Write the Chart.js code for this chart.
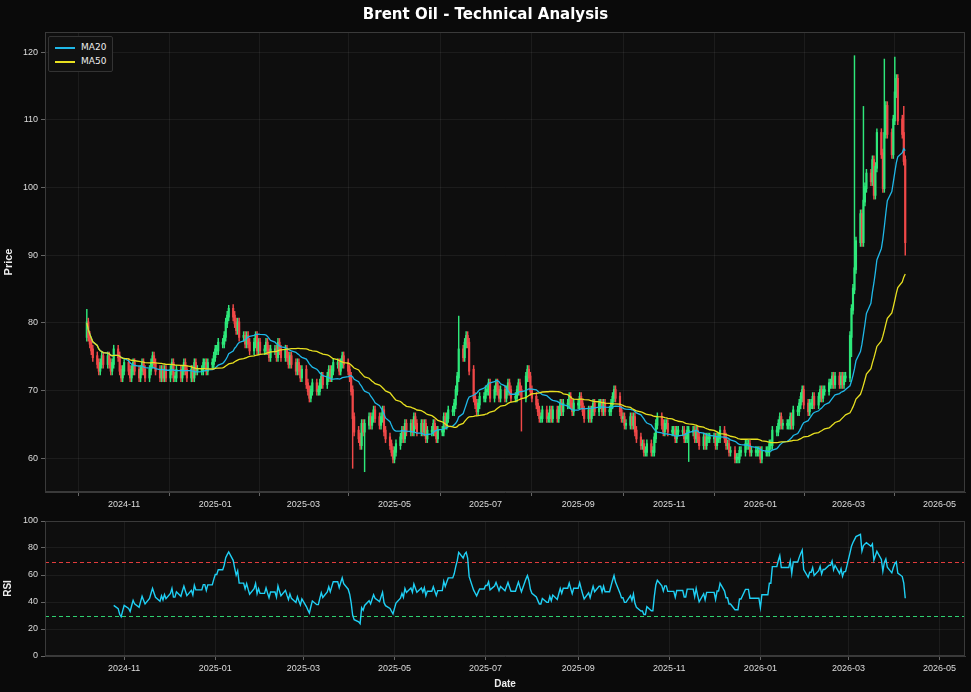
<!DOCTYPE html>
<html>
<head>
<meta charset="utf-8">
<script src="https://cdn.jsdelivr.net/npm/chart.js@4.4.1/dist/chart.umd.min.js"></script>
<style>
  body { margin: 0; background: #0a0a0a; width: 971px; height: 692px; overflow: hidden; font-family: "DejaVu Sans", sans-serif; }
  .box { position: absolute; left: 0; width: 971px; }
  #title { position: absolute; top: 5px; width: 971px; text-align: center; color: #fff; font-weight: bold; font-size: 15px; z-index: 2; }
  #legend { position: absolute; left: 48px; top: 36px; padding: 3px 6px; border: 1px solid #333; background: #111; color: #eee; font-size: 9px; line-height: 14px; border-radius: 2px; z-index: 2; }
  #legend span { display: inline-block; width: 20px; height: 2px; vertical-align: middle; margin-right: 6px; }
</style>
</head>
<body>
<div id="title">Brent Oil - Technical Analysis</div>
<div class="box" style="top:0;height:515px"><canvas id="priceChart"></canvas></div>
<div class="box" style="top:510px;height:182px"><canvas id="rsiChart"></canvas></div>
<div id="legend"><div><span style="background:#1fb8e8"></span>MA20</div><div><span style="background:#e8e020"></span>MA50</div></div>
<script>
// daily closes, one row per week, starting Monday 2024-10-07
const closes = [
  80,78,77,76,75, 74,73,74,75,74, 75,74,73,74,76, 75,73,72,73,74,
  73,72,73,74,73, 72,73,74,73,72, 73,74,75,74,73, 72,73,72,73,72,
  73,74,72,72,73, 72,73,74,73,72, 73,72,74,73,73, 73,74,74,73,74, 74,75,76,76,77,
  77,78,80,81,82, 81,80,79,80,78, 78,77,78,77,76, 77,78,76,77,76,
  76,77,76,75,76, 76,75,77,76,75, 76,75,74,75,74, 73,74,73,72,73,
  71,70,69,70,71, 70,70,71,72,71, 72,73,72,73,74, 74,73,74,75,74, 73,72,70,66,64,
  63,62,65,64,65, 66,65,66,67,66, 65,66,67,64,63, 62,61,60,61,62,
  63,64,63,65,64, 65,64,66,65,64, 65,64,65,63,64, 64,65,64,63,64,
  64,66,65,66,67, 67,68,70,72,76, 75,77,78,77,73, 69,68,67,68,69, 69,70,70,71,69,
  70,71,70,69,70, 69,70,71,70,69, 69,70,71,70,69, 72,73,72,70,69,
  68,67,66,66,67, 66,66,67,66,67, 66,67,68,67,68, 68,69,68,67,68,
  68,69,68,67,66, 67,66,67,68,67, 68,68,67,68,67, 67,68,69,70,69, 67,66,66,65,65,
  66,65,66,64,63, 62,62,61,61,62, 61,61,63,65,66, 65,64,65,65,64,
  64,64,63,64,64, 64,63,63,64,64, 64,63,64,63,62, 63,62,63,63,63,
  63,62,63,63,64, 63,62,62,61,61, 60,60,60,61,61, 62,62,62,61,61, 61,61,61,60,61,
  61,61,62,62,64, 64,65,66,65,65, 65,65,66,65,67, 67,68,69,70,68,
  67,68,68,69,68, 69,70,69,70,70, 71,71,72,71,72, 71,72,71,72,72,
  78,82,85,88,92, 96,92,98,100,102, 101,104,99,103,108, 105,100,108,112,108, 105,110,114,116,110,
  108,104,92
];
const firstOpen = 78;
// notable wick extremes: [index, value]
const highSpikes = [[0, 82], [69, 82.6], [179, 81], [368, 119.5], [372, 112], [382, 119], [387, 119.3], [391, 112]];
const lowSpikes = [[128, 58.5], [134, 58], [209, 64], [289, 59.5], [366, 75], [392, 90]];
const wick = 0.7;
const xTicks = ['2024-11','2025-01','2025-03','2025-05','2025-07','2025-09','2025-11','2026-01','2026-03','2026-05'];
const rsiLevels = [[70, '#e03c3c'], [30, '#2ed070']];

const DAY = 86400000;
const toDay = s => Date.UTC(+s.slice(0,4), +s.slice(5,7) - 1, s.length > 7 ? +s.slice(8,10) : 1) / DAY;
const fmt = d => { const t = new Date(d * DAY); return t.getUTCFullYear() + '-' + String(t.getUTCMonth() + 1).padStart(2, '0'); };

// trading days
const days = [];
let d = toDay('2024-10-07');
while (days.length < closes.length) {
  const wd = new Date(d * DAY).getUTCDay();
  if (wd > 0 && wd < 6) days.push(d);
  d++;
}

const opens = closes.map((c, i) => i === 0 ? firstOpen : closes[i - 1]);
const highs = closes.map((c, i) => Math.max(c, opens[i]) + wick);
const lows = closes.map((c, i) => Math.min(c, opens[i]) - wick);
highSpikes.forEach(([i, v]) => highs[i] = v);
lowSpikes.forEach(([i, v]) => lows[i] = v);

const ma = n => closes.map((c, i) => {
  const s = closes.slice(Math.max(0, i - n + 1), i + 1);
  return { x: days[i], y: s.reduce((a, b) => a + b, 0) / s.length };
});

// Wilder RSI(14)
const rsi = [];
let ag = 0, al = 0;
for (let i = 1; i < closes.length; i++) {
  const ch = closes[i] - closes[i - 1];
  const g = Math.max(ch, 0), l = Math.max(-ch, 0);
  if (i <= 14) { ag += g / 14; al += l / 14; }
  else { ag = (ag * 13 + g) / 14; al = (al * 13 + l) / 14; }
  if (i >= 14) rsi.push({ x: days[i], y: al === 0 ? 100 : 100 - 100 / (1 + ag / al) });
}

const UP = '#2ee87a', DOWN = '#f04848';
const colors = closes.map((c, i) => c >= opens[i] ? UP : DOWN);
const grid = 'rgba(255,255,255,0.06)';
const xMin = toDay('2024-09-09'), xMax = toDay('2026-05-18');

const bgPlugin = {
  id: 'bg',
  beforeDraw(c) {
    const a = c.chartArea, ctx = c.ctx;
    ctx.save(); ctx.fillStyle = '#0e0e0e';
    ctx.fillRect(a.left, a.top, a.width, a.height); ctx.restore();
  },
  afterDraw(c) {
    const a = c.chartArea, ctx = c.ctx;
    ctx.save(); ctx.strokeStyle = '#3a3a3a'; ctx.lineWidth = 1;
    ctx.strokeRect(a.left + 0.5, a.top + 0.5, a.width - 1, a.height - 1); ctx.restore();
  }
};

// dashed overbought / oversold levels
const levelPlugin = {
  id: 'levels',
  beforeDatasetsDraw(c) {
    const a = c.chartArea, ctx = c.ctx, y = c.scales.y;
    ctx.save(); ctx.lineWidth = 1; ctx.setLineDash([4, 3]);
    rsiLevels.forEach(([v, col]) => {
      const py = Math.round(y.getPixelForValue(v)) + 0.5;
      ctx.strokeStyle = col;
      ctx.beginPath(); ctx.moveTo(a.left, py); ctx.lineTo(a.right, py); ctx.stroke();
    });
    ctx.restore();
  }
};

const xScale = (showTitle, h) => ({
  type: 'linear', min: xMin, max: xMax, offset: false,
  afterBuildTicks: s => { s.ticks = xTicks.map(t => ({ value: toDay(t) })); },
  afterFit: s => { s.height = h; },
  ticks: { color: '#ddd', font: { size: 9 }, callback: v => fmt(v), maxRotation: 0, autoSkip: false },
  grid: { color: grid, tickColor: '#666', tickLength: 4 },
  border: { color: '#3a3a3a' },
  title: { display: showTitle, text: 'Date', color: '#eee', font: { size: 10, weight: 'bold' }, padding: 2 }
});

Chart.defaults.animation = false;
Chart.defaults.maintainAspectRatio = false;

new Chart(document.getElementById('priceChart'), {
  type: 'bar',
  data: {
    datasets: [
      { label: 'wick', data: closes.map((c, i) => ({ x: days[i], y: [lows[i], highs[i]] })),
        backgroundColor: colors, barThickness: 0.8, grouped: false, order: 3 },
      { label: 'body', data: closes.map((c, i) => ({ x: days[i], y: [Math.min(c, opens[i]) - 0.15, Math.max(c, opens[i]) + 0.15] })),
        backgroundColor: colors, barThickness: 1.5, grouped: false, order: 2 },
      { type: 'line', label: 'MA20', data: ma(20), borderColor: '#1fb8e8', borderWidth: 1.3, pointRadius: 0, order: 1 },
      { type: 'line', label: 'MA50', data: ma(50), borderColor: '#e8e020', borderWidth: 1.3, pointRadius: 0, order: 0 }
    ]
  },
  options: {
    layout: { padding: { top: 32, right: 6 } },
    plugins: { legend: { display: false }, tooltip: { enabled: false } },
    scales: {
      x: xScale(false, 23),
      y: {
        min: 55, max: 123,
        afterBuildTicks: s => { s.ticks = [60, 70, 80, 90, 100, 110, 120].map(v => ({ value: v })); },
        afterFit: s => { s.width = 45; },
        ticks: { color: '#ddd', font: { size: 9 } },
        grid: { color: grid, tickColor: '#666', tickLength: 4 },
        border: { color: '#3a3a3a' },
        title: { display: true, text: 'Price', color: '#eee', font: { size: 11, weight: 'bold' }, padding: 2 }
      }
    }
  },
  plugins: [bgPlugin]
});

new Chart(document.getElementById('rsiChart'), {
  type: 'line',
  data: {
    datasets: [
      { data: rsi, borderColor: '#1fd0f5', borderWidth: 1.4, pointRadius: 0 }
    ]
  },
  options: {
    layout: { padding: { top: 11, right: 6 } },
    plugins: { legend: { display: false }, tooltip: { enabled: false } },
    scales: {
      x: xScale(true, 36),
      y: {
        min: 0, max: 100,
        afterBuildTicks: s => { s.ticks = [0, 20, 40, 60, 80, 100].map(v => ({ value: v })); },
        afterFit: s => { s.width = 45; },
        ticks: { color: '#ddd', font: { size: 9 } },
        grid: { color: grid, tickColor: '#666', tickLength: 4 },
        border: { color: '#3a3a3a' },
        title: { display: true, text: 'RSI', color: '#eee', font: { size: 10, weight: 'bold' }, padding: 2 }
      }
    }
  },
  plugins: [bgPlugin, levelPlugin]
});
</script>
</body>
</html>
